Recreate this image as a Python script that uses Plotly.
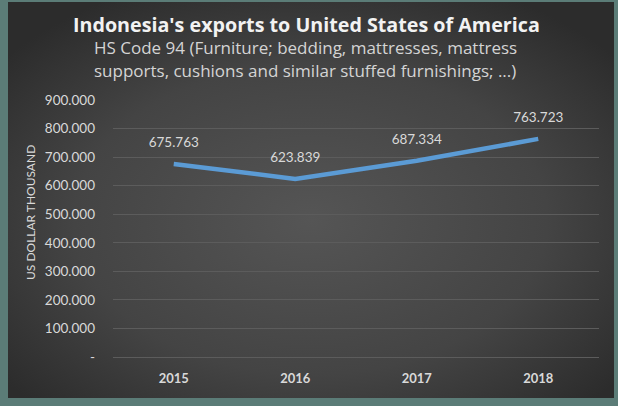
import base64
import plotly.graph_objects as go

# ---- data ----
years = ["2015", "2016", "2017", "2018"]
exports = [675763, 623839, 687334, 763723]  # US dollar thousand
y_tick_vals = [0, 100000, 200000, 300000, 400000, 500000, 600000, 700000, 800000, 900000]
y_tick_text = ["-", "100.000", "200.000", "300.000", "400.000", "500.000",
               "600.000", "700.000", "800.000", "900.000"]
title_text = "Indonesia's exports to United States of America"
subtitle_lines = ["HS Code 94 (Furniture; bedding, mattresses, mattress",
                  "supports, cushions and similar stuffed furnishings; ...)"]
y_title = "US DOLLAR THOUSAND"

W, H = 618, 406

# radial gradient background as inline SVG image
svg = (
    '<svg xmlns="http://www.w3.org/2000/svg" width="606" height="396" viewBox="0 0 606 396">'
    '<defs><radialGradient id="g" cx="50%" cy="55%" r="65%">'
    '<stop offset="0%" stop-color="#555555"/>'
    '<stop offset="60%" stop-color="#444444"/>'
    '<stop offset="100%" stop-color="#2c2c2c"/>'
    '</radialGradient></defs>'
    '<rect width="606" height="396" fill="url(#g)"/></svg>'
)
svg_uri = "data:image/svg+xml;base64," + base64.b64encode(svg.encode()).decode()

def px_x(v):
    return v / W

def px_y(v):
    return 1 - v / H

fig = go.Figure()
fig.add_trace(go.Scatter(
    x=years, y=exports,
    mode="lines+markers+text",
    line=dict(color="#5b9bd5", width=4.5),
    marker=dict(size=20, color="rgba(0,0,0,0)"),
    text=[f"{v:,}".replace(",", ".") for v in exports],
    textposition="top center",
    textfont=dict(family="Lato", size=13.5, color="#d9d9d9"),
    hoverinfo="skip",
    cliponaxis=False,
))

fig.update_layout(
    width=W, height=H,
    autosize=False,
    margin=dict(l=0, r=0, t=0, b=0, pad=0),
    paper_bgcolor="#5b7c77",
    plot_bgcolor="rgba(0,0,0,0)",
    showlegend=False,
    separators=",.",
    xaxis=dict(
        domain=[px_x(113), px_x(599)],
        type="category",
        range=[-0.5, 3.5], autorange=False,
        showgrid=False, zeroline=False, showline=False,
        tickfont=dict(family="Lato", size=13, color="#d9d9d9", weight="bold"),
        ticks="", ticklabelstandoff=12,
        automargin=False,
        fixedrange=True,
    ),
    yaxis=dict(
        domain=[px_y(357), px_y(100)],
        range=[0, 900000], autorange=False,
        tickvals=y_tick_vals, ticktext=y_tick_text,
        showgrid=True, gridcolor="#5c5c5c", gridwidth=1,
        zeroline=True, zerolinecolor="#5c5c5c", zerolinewidth=1,
        showline=False, ticks="",
        tickfont=dict(family="Lato", size=13.5, color="#d9d9d9"),
        ticklabelstandoff=17,
        automargin=False,
        fixedrange=True,
    ),
    images=[dict(
        source=svg_uri, xref="paper", yref="paper",
        x=px_x(8), y=px_y(2), sizex=606 / W, sizey=396 / H,
        xanchor="left", yanchor="top", sizing="stretch", layer="below",
    )],
    annotations=[
        dict(text="<b>" + title_text + "</b>", xref="paper", yref="paper",
             x=px_x(306), y=px_y(24), showarrow=False,
             xanchor="center", yanchor="middle",
             font=dict(family="Open Sans", size=19.7, color="#f2f2f2")),
        dict(text=subtitle_lines[0], xref="paper", yref="paper",
             x=px_x(305), y=px_y(48), showarrow=False,
             xanchor="center", yanchor="middle",
             font=dict(family="Open Sans", size=17, color="#d4d4d4")),
        dict(text=subtitle_lines[1], xref="paper", yref="paper",
             x=px_x(305), y=px_y(70), showarrow=False,
             xanchor="center", yanchor="middle",
             font=dict(family="Open Sans", size=17, color="#d4d4d4")),
        dict(text=y_title, xref="paper", yref="paper",
             x=px_x(30), y=px_y(213), showarrow=False, textangle=-90,
             xanchor="center", yanchor="middle",
             font=dict(family="Lato", size=12, color="#d9d9d9")),
    ],
)

fig.write_html(
    "out.html",
    config={"displayModeBar": False, "staticPlot": True},
    post_script="document.body.style.margin='0';document.body.style.overflow='hidden';"
                "document.body.style.background='#5b7c77';",
)
